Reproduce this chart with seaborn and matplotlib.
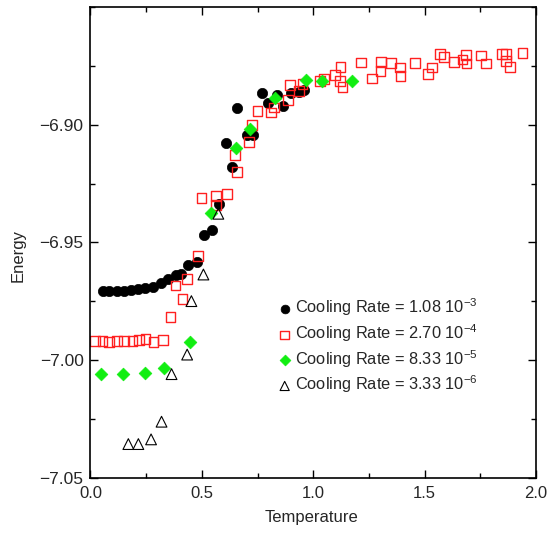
import matplotlib
matplotlib.use("Agg")
import matplotlib.pyplot as plt
import matplotlib.ticker as mticker
import pandas as pd
import seaborn as sns

# Cooling rate 1.08e-3 (black circles)
t_fast = [0.054, 0.084, 0.118, 0.151, 0.182, 0.215, 0.247, 0.282, 0.316, 0.349,
          0.386, 0.408, 0.438, 0.476, 0.510, 0.545, 0.576, 0.607, 0.637, 0.656,
          0.701, 0.729, 0.768, 0.798, 0.838, 0.865, 0.899, 0.935, 0.959]
e_fast = [-6.9708, -6.9708, -6.9708, -6.9707, -6.9703, -6.9699, -6.9692, -6.9689, -6.9672, -6.9654,
          -6.9639, -6.9633, -6.9596, -6.9581, -6.9467, -6.9449, -6.9338, -6.9079, -6.9178, -6.8929,
          -6.9042, -6.9042, -6.8867, -6.8906, -6.8873, -6.8920, -6.8867, -6.8859, -6.8853]

# Cooling rate 2.70e-4 (open red squares)
t_mid = [0.021, 0.054, 0.084, 0.118, 0.151, 0.189, 0.218, 0.247, 0.283, 0.327,
         0.359, 0.382, 0.413, 0.435, 0.483, 0.498, 0.562, 0.562, 0.612, 0.659,
         0.649, 0.711, 0.726, 0.750, 0.810, 0.825, 0.885, 0.895, 0.935, 0.952,
         1.029, 1.049, 1.096, 1.122, 1.119, 1.131, 1.213, 1.263, 1.302, 1.306,
         1.350, 1.390, 1.392, 1.455, 1.514, 1.533, 1.570, 1.588, 1.633, 1.670,
         1.685, 1.688, 1.753, 1.775, 1.847, 1.864, 1.867, 1.884, 1.939]
e_mid = [-6.9918, -6.9918, -6.9921, -6.9917, -6.9920, -6.9920, -6.9915, -6.9911, -6.9924, -6.9915,
         -6.9817, -6.9683, -6.9739, -6.9655, -6.9556, -6.9311, -6.9301, -6.9341, -6.9293, -6.9199,
         -6.9128, -6.9075, -6.9000, -6.8941, -6.8948, -6.8927, -6.8895, -6.8831, -6.8856, -6.8828,
         -6.8814, -6.8806, -6.8789, -6.8754, -6.8814, -6.8839, -6.8736, -6.8804, -6.8771, -6.8732,
         -6.8737, -6.8757, -6.8792, -6.8738, -6.8785, -6.8757, -6.8698, -6.8712, -6.8732, -6.8723,
         -6.8703, -6.8740, -6.8706, -6.8740, -6.8698, -6.8698, -6.8729, -6.8754, -6.8695]

# Cooling rate 8.33e-5 (green diamonds)
t_slow = [0.046, 0.148, 0.245, 0.331, 0.449, 0.541, 0.652, 0.716, 0.828, 0.966, 1.041, 1.174]
e_slow = [-7.0059, -7.0059, -7.0056, -7.0031, -6.9921, -6.9376, -6.9100, -6.9018, -6.8887, -6.8811,
          -6.8814, -6.8814]

# Cooling rate 3.33e-6 (open triangles)
t_slowest = [0.170, 0.215, 0.272, 0.319, 0.364, 0.434, 0.453, 0.507, 0.574]
e_slowest = [-7.0356, -7.0356, -7.0336, -7.0261, -7.0059, -6.9976, -6.9749, -6.9636, -6.9378]

labels = [r"Cooling Rate = 1.08 10$^{-3}$",
          r"Cooling Rate = 2.70 10$^{-4}$",
          r"Cooling Rate = 8.33 10$^{-5}$",
          r"Cooling Rate = 3.33 10$^{-6}$"]

sns.set_theme(style="ticks")
plt.rcParams["font.family"] = ["Liberation Sans", "DejaVu Sans"]
plt.rcParams["mathtext.fontset"] = "custom"
plt.rcParams["mathtext.rm"] = "Liberation Sans"
plt.rcParams["mathtext.it"] = "Liberation Sans"
plt.rcParams["mathtext.bf"] = "Liberation Sans"

fig = plt.figure(figsize=(5.47, 5.33), dpi=100)
ax = fig.add_axes([0.1654, 0.1032, 0.8145, 0.8837])

series = [
    (t_fast, e_fast, dict(marker="o", s=55, color="black", edgecolor="black", linewidth=0.5)),
    (t_mid, e_mid, dict(marker="s", s=50, facecolor="none", edgecolor="#ff2020", linewidth=1.0)),
    (t_slow, e_slow, dict(marker="D", s=42, color="#11ee11", edgecolor="#11ee11", linewidth=0.5)),
    (t_slowest, e_slowest, dict(marker="^", s=60, facecolor="none", edgecolor="black", linewidth=0.8)),
]
for (t, e, style), lab in zip(series, labels):
    df = pd.DataFrame({"Temperature": t, "Energy": e})
    sns.scatterplot(data=df, x="Temperature", y="Energy", ax=ax, label=lab, **style)

ax.set_xlim(0.0, 2.0)
ax.set_ylim(-7.05, -6.85)
ax.xaxis.set_major_locator(mticker.MultipleLocator(0.5))
ax.xaxis.set_minor_locator(mticker.MultipleLocator(0.25))
ax.yaxis.set_major_locator(mticker.FixedLocator([-7.05, -7.00, -6.95, -6.90]))
ax.yaxis.set_minor_locator(mticker.MultipleLocator(0.025))
ax.xaxis.set_major_formatter(mticker.FormatStrFormatter("%.1f"))
ax.yaxis.set_major_formatter(mticker.FuncFormatter(lambda v, p: f"{v:.2f}".replace("-", "\u2212")))

ax.tick_params(which="both", direction="in", top=True, right=True, color="black")
ax.tick_params(axis="y", labelsize=12.5)
ax.tick_params(axis="x", labelsize=12)
ax.tick_params(which="major", length=6, width=1)
ax.tick_params(which="minor", length=3.5, width=1)
ax.tick_params(axis="x", which="major", pad=6)
ax.tick_params(axis="y", which="major", pad=5)
for sp in ax.spines.values():
    sp.set_visible(True)
    sp.set_color("black")
    sp.set_linewidth(1.2)

ax.set_xlabel("Temperature", fontsize=12)
ax.set_ylabel("Energy", fontsize=12)
ax.xaxis.set_label_coords(0.497, -0.068)
ax.yaxis.set_label_coords(-0.145, 0.473)

ax.legend(loc="upper left", bbox_to_anchor=(0.423, 0.385), frameon=False, fontsize=11.8,
          handlelength=0.7, handletextpad=0.3, labelspacing=0.24, borderpad=0,
          borderaxespad=0, markerscale=0.85)

fig.savefig("out.png", dpi=100)
plt.close(fig)
